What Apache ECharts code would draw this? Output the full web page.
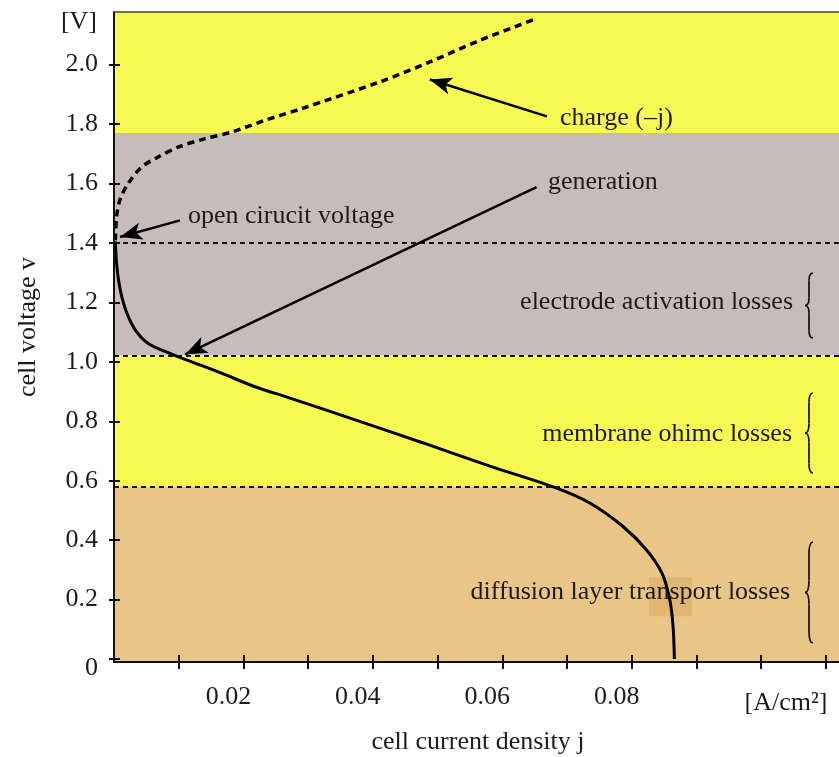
<!DOCTYPE html>
<html>
<head>
<meta charset="utf-8">
<script src="https://cdn.jsdelivr.net/npm/echarts@6/dist/echarts.min.js"></script>
<style>
html, body { margin: 0; padding: 0; background: #fff; }
#chart { width: 839px; height: 757px; }
</style>
</head>
<body>
<div id="chart"></div>
<script>
// discharge (generation) curve
const genJ = [0.0002, 0.0004, 0.0007, 0.0012, 0.0020, 0.0033, 0.0053, 0.0089, 0.0120, 0.0167, 0.0218,
              0.0272, 0.0375, 0.0478, 0.0581, 0.0684, 0.0736, 0.0787, 0.0823, 0.0847, 0.0859, 0.0864, 0.0866];
const genV = [1.405, 1.331, 1.275, 1.219, 1.163, 1.107, 1.062, 1.026, 1.000, 0.961, 0.916,
              0.878, 0.803, 0.727, 0.649, 0.575, 0.524, 0.445, 0.367, 0.288, 0.198, 0.109, 0];

// charge curve (-j), dashed
const chargeJ = [0.0002, 0.0004, 0.0009, 0.0022, 0.0043, 0.0069, 0.0100, 0.0141, 0.0182, 0.0234, 0.0290,
                 0.0411, 0.0488, 0.0566, 0.0653];
const chargeV = [1.409, 1.488, 1.544, 1.600, 1.656, 1.690, 1.723, 1.751, 1.773, 1.813, 1.852,
                 1.942, 2.009, 2.082, 2.155];

// axes
const xMin = 0, xMax = 0.11204;
const yMin = -0.01, yMax = 2.177;
const xTicks = [0.01, 0.02, 0.03, 0.04, 0.05, 0.06, 0.07, 0.08, 0.09, 0.10, 0.11];
const xLabels = [0.02, 0.04, 0.06, 0.08];
const yTicks = [0, 0.2, 0.4, 0.6, 0.8, 1.0, 1.2, 1.4, 1.6, 1.8, 2.0];

// loss regions (top / bottom voltage of each band)
const bandTop = [2.177, 1.77, 1.021, 0.58];
const bandBottom = [1.77, 1.021, 0.58, -0.01];
const bandColor = ['#f8f852', '#c6bcbc', '#f8f852', '#e9c587'];
const lossLines = [1.40, 1.021, 0.58];

// annotation arrows: tail -> head, in data units
const arrowFrom = [[0.0669, 1.826], [0.0653, 1.588], [0.0102, 1.476]];
const arrowTo = [[0.0488, 1.950], [0.0110, 1.025], [0.00094, 1.420]];

const FONT = '"Liberation Serif", "Times New Roman", serif';
const INK = '#1c1c1c';

function pairs(xs, ys) {
    return xs.map((x, i) => [x, ys[i]]);
}

function txt(text, x, y, align, extra) {
    return Object.assign({
        type: 'text', x: x, y: y, z: 50, silent: true,
        style: {
            text: text, fill: INK, font: '26px ' + FONT,
            align: align, verticalAlign: 'middle',
            textAlign: align, textVerticalAlign: 'middle'
        }
    }, extra || {});
}

// thin curly brace "{" drawn from curves, tip on the left
function brace(x, top, bottom) {
    const mid = (top + bottom) / 2, q = (bottom - top) * 0.12, s = x + 4;
    const st = {stroke: '#111', lineWidth: 1.7, fill: null};
    const bz = (x1, y1, c1x, c1y, c2x, c2y, x2, y2) => ({
        type: 'bezierCurve', z: 50, silent: true, style: st,
        shape: {x1: x1, y1: y1, cpx1: c1x, cpy1: c1y, cpx2: c2x, cpy2: c2y, x2: x2, y2: y2}
    });
    const ln = (x1, y1, x2, y2) => ({
        type: 'line', z: 50, silent: true, style: st,
        shape: {x1: x1, y1: y1, x2: x2, y2: y2}
    });
    return [
        bz(x + 8, top, x + 5.5, top, s, top + q * 0.4, s, top + q),
        ln(s, top + q, s, mid - q),
        bz(s, mid - q, s, mid - q * 0.4, x + 2.5, mid, x, mid),
        bz(x, mid, x + 2.5, mid, s, mid + q * 0.4, s, mid + q),
        ln(s, mid + q, s, bottom - q),
        bz(s, bottom - q, s, bottom - q * 0.4, x + 5.5, bottom, x + 8, bottom)
    ];
}

const axisText = {fontFamily: FONT, fontSize: 26, color: INK};
const tickStyle = {color: '#111', width: 2};

const option = {
    animation: false,
    backgroundColor: '#fff',
    grid: {left: 114, right: 0, top: 12, bottom: 95},
    xAxis: [
        {
            type: 'value', position: 'bottom', min: xMin, max: xMax, z: 10,
            axisLine: {onZero: false, lineStyle: {color: '#111', width: 2}},
            axisTick: {inside: false, length: 7, customValues: xTicks, lineStyle: tickStyle},
            axisLabel: Object.assign({
                customValues: xLabels, margin: 22, padding: [0, 30, 0, 0],
                formatter: v => v.toFixed(2)
            }, axisText),
            splitLine: {show: false}
        },
        {
            // second copy of the axis only for the ticks that reach into the plot
            type: 'value', position: 'bottom', min: xMin, max: xMax, z: 10,
            axisLine: {onZero: false, show: false},
            axisTick: {inside: true, length: 7, customValues: xTicks, lineStyle: tickStyle},
            axisLabel: {show: false},
            splitLine: {show: false}
        },
        {
            type: 'value', position: 'top', min: xMin, max: xMax, z: 10,
            axisLine: {onZero: false, lineStyle: {color: '#444', width: 1.5}},
            axisTick: {show: false}, axisLabel: {show: false}, splitLine: {show: false}
        }
    ],
    yAxis: [
        {
            type: 'value', position: 'left', min: yMin, max: yMax, z: 10,
            axisLine: {onZero: false, lineStyle: {color: '#111', width: 2}},
            axisTick: {inside: false, length: 5, customValues: yTicks, lineStyle: tickStyle},
            axisLabel: Object.assign({
                customValues: yTicks, margin: 16,
                // the "0" sits a little lower, clear of the x axis
                formatter: v => (v === 0 ? '{zero|0}' : v.toFixed(1)),
                rich: {zero: {fontFamily: FONT, fontSize: 26, color: INK, padding: [18, 0, 0, 0]}}
            }, axisText),
            splitLine: {show: false}
        },
        {
            type: 'value', position: 'left', min: yMin, max: yMax, z: 10,
            axisLine: {onZero: false, show: false},
            axisTick: {inside: true, length: 6, customValues: yTicks, lineStyle: tickStyle},
            axisLabel: {show: false},
            splitLine: {show: false}
        }
    ],
    series: [
        {
            name: 'regions', type: 'line', data: [], z: 1, silent: true,
            markArea: {
                silent: true,
                data: bandTop.map((t, i) => [
                    {yAxis: bandBottom[i], itemStyle: {color: bandColor[i], opacity: 1}},
                    {yAxis: t}
                ])
            },
            markLine: {
                silent: true, symbol: ['none', 'none'],
                label: {show: false},
                lineStyle: {color: '#111', width: 1.8, type: [5, 4]},
                data: lossLines.map(v => ({yAxis: v}))
            }
        },
        {
            name: 'generation', type: 'line', z: 3, silent: true,
            data: pairs(genJ, genV),
            showSymbol: false, symbol: 'none',
            smooth: 0.3,
            lineStyle: {color: '#000', width: 3}
        },
        {
            name: 'charge', type: 'line', z: 3, silent: true,
            data: pairs(chargeJ, chargeV),
            showSymbol: false, symbol: 'none',
            smooth: 0.3,
            lineStyle: {color: '#000', width: 3.5, type: [7, 5]}
        },
        {
            name: 'arrows', type: 'line', data: [], z: 4, silent: true,
            markLine: {
                silent: true, symbol: ['none', 'arrow'], symbolSize: [1, 20],
                label: {show: false},
                lineStyle: {color: '#000', width: 2.5, type: 'solid'},
                data: arrowFrom.map((f, i) => [
                    {coord: f},
                    {coord: arrowTo[i], symbol: 'arrow', symbolSize: [13, 22]}
                ])
            }
        },
        {
            name: 'overlay', type: 'line', data: [], z: 20, silent: true,
            markArea: {
                silent: true,
                itemStyle: {color: 'rgba(222,176,108,0.72)'},
                data: [[{coord: [0.0827, 0.144]}, {coord: [0.0893, 0.275]}]]
            }
        }
    ],
    graphic: [
        txt('charge (\u2013j)', 560, 118, 'left'),
        txt('generation', 548, 182, 'left'),
        txt('open cirucit voltage', 188, 216, 'left'),
        txt('electrode activation losses', 793, 302, 'right'),
        txt('membrane ohimc losses', 792, 434, 'right'),
        txt('diffusion layer transport losses', 790, 592, 'right'),
        txt('[V]', 97, 22, 'right'),
        txt('[A/cm\u00b2]', 786, 703, 'center'),
        txt('cell current density j', 478, 742, 'center'),
        txt('cell voltage v', 28, 327, 'center', {rotation: Math.PI / 2})
    ]
        .concat(brace(805, 273, 338))
        .concat(brace(805, 393, 473))
        .concat(brace(805, 542, 643))
};

const chart = echarts.init(document.getElementById('chart'));
chart.setOption(option);
</script>
</body>
</html>
